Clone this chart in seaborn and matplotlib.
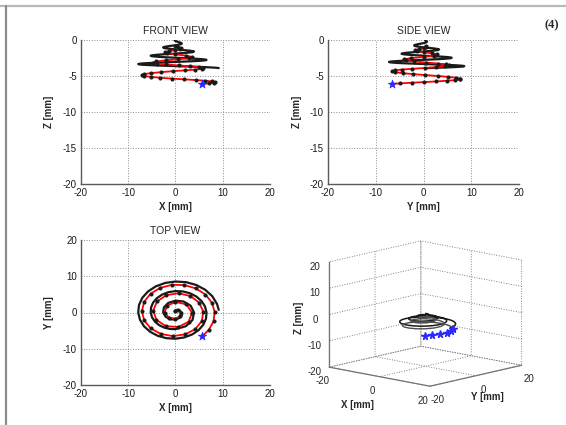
import matplotlib
matplotlib.use("Agg")
import matplotlib.pyplot as plt
import seaborn as sns
from matplotlib.lines import Line2D

# ---------------- data (mm) ----------------
# desired (black) spiral trajectory
desired_x = [-0.205, 0.000, 0.425, 0.927, 1.290, 1.308, 0.865, 0.000, -1.085, -2.070,
             -2.610, -2.451, -1.525, 0.000, 1.745, 3.213, 3.930, 3.594, 2.185, 0.000,
             -1.216, -2.405, -3.479, -4.356, -4.965, -5.250, -5.177, -4.737, -3.946,
             -2.845, -1.501, 0.000, 1.558, 3.065, 4.412, 5.499, 6.240, 6.570, 6.452,
             5.880, 4.879, 3.505, 1.843, 0.000, -1.900, -3.725, -5.346, -6.642, -7.515,
             -7.890, -7.727, -7.023, -5.812, -4.165, -2.184, 0.000, 2.241, 4.385, 6.279,
             7.785, 8.790, 9.152]
desired_y = [0.355, 0.630, 0.736, 0.535, 0.000, -0.755, -1.498, -1.950, -1.879, -1.195,
             0.000, 1.415, 2.641, 3.270, 3.022, 1.855, 0.000, -2.075, -3.784, -4.590,
             -4.540, -4.165, -3.479, -2.515, -1.330, 0.000, 1.387, 2.735, 3.946,
             4.928, 5.602, 5.910, 5.815, 5.309, 4.412, 3.175, 1.672, 0.000, -1.729,
             -3.395, -4.879, -6.071, -6.877, -7.230, -7.090, -6.452, -5.346, -3.835, -2.013,
             0.000, 2.070, 4.055, 5.812, 7.214, 8.152, 8.550, 8.365, 7.595, 6.279,
             4.495, 2.355, 0.720]
desired_z = [-0.048, -0.145, -0.242, -0.338, -0.435, -0.532, -0.628, -0.725, -0.822, -0.919,
             -1.015, -1.112, -1.209, -1.305, -1.402, -1.499, -1.595, -1.692, -1.789, -1.885,
             -1.934, -1.982, -2.030, -2.079, -2.127, -2.175, -2.224, -2.272, -2.320,
             -2.369, -2.417, -2.465, -2.514, -2.562, -2.610, -2.659, -2.707, -2.755, -2.804,
             -2.852, -2.900, -2.949, -2.997, -3.045, -3.094, -3.142, -3.190, -3.239, -3.287,
             -3.335, -3.384, -3.432, -3.480, -3.529, -3.577, -3.625, -3.674, -3.722, -3.770,
             -3.819, -3.867, -3.900]

# measured (red, sampled) trajectory; last point is the current position (blue star)
measured_x = [0.000, 0.566, 1.100, 0.990, 0.000, -1.414, -2.300, -1.838, 0.000, 2.263,
              3.500, 2.787, 0.564, -2.068, -4.050, -4.713, -3.908, -1.934, 0.637, 3.153,
              5.026, 5.880, 5.571, 4.187, 2.009, -0.574, -3.119, -5.245, -6.634, -7.111,
              -6.623, -5.256, -3.197, -0.709, 1.903, 4.338, 6.343, 7.704, 8.290, 8.052,
              7.025, 5.604]
measured_y = [0.500, 0.566, 0.000, -0.990, -1.700, -1.414, 0.000, 1.838, 2.900, 2.263,
              0.000, -2.560, -4.008, -3.761, -2.016, 0.535, 3.042, 4.776, 5.308, 4.546,
              2.712, 0.231, -2.370, -4.596, -6.053, -6.509, -5.913, -4.381, -2.167, 0.402,
              2.978, 5.206, 6.821, 7.632, 7.558, 6.628, 4.952, 2.719, 0.169, -2.435,
              -4.838, -6.562]
measured_z = [-0.900, -1.025, -1.150, -1.275, -1.400, -1.550, -1.700, -1.850, -2.000, -2.175,
              -2.350, -2.516, -2.669, -2.828, -2.982, -3.129, -3.268, -3.402, -3.530, -3.654,
              -3.774, -3.890, -4.002, -4.112, -4.218, -4.331, -4.470, -4.606, -4.739, -4.870,
              -4.998, -5.123, -5.247, -5.368, -5.471, -5.566, -5.660, -5.753, -5.844, -5.935,
              -6.025, -6.100]

xy_ticks = [-20, -10, 0, 10, 20]
z_ticks = [-20, -15, -10, -5, 0]
ticks3d_xy = [-20, 0, 20]
ticks3d_z = [-20, -10, 0, 10, 20]

# ---------------- style ----------------
sns.set_theme(style="white")
plt.rcParams["font.family"] = ["Liberation Sans", "DejaVu Sans"]
plt.rcParams["axes.unicode_minus"] = False
plt.rcParams["grid.linestyle"] = ":"
plt.rcParams["grid.color"] = "0.5"
plt.rcParams["grid.linewidth"] = 0.7

W, H = 566, 425
fig = plt.figure(figsize=(W / 100, H / 100), dpi=100)
fig.patch.set_facecolor("white")


def rect(x0, y0, x1, y1):
    return [x0 / W, 1 - y1 / H, (x1 - x0) / W, (y1 - y0) / H]


def view2d(r, hb, vb, hr, vr, title, xlab, ylab, ylim, yticks):
    ax = fig.add_axes(r)
    sns.lineplot(x=hb, y=vb, sort=False, estimator=None, color="k",
                 linewidth=1.6, ax=ax)
    sns.lineplot(x=hr, y=vr, sort=False, estimator=None, color="red",
                 linewidth=1.3, marker="o", markersize=2.2,
                 markerfacecolor="k", markeredgecolor="k", ax=ax)
    sns.scatterplot(x=[hr[-1]], y=[vr[-1]], marker="*", color="#2a2aff",
                    edgecolor="#2a2aff", s=40, zorder=5, ax=ax)
    ax.set_xlim(-20, 20)
    ax.set_ylim(*ylim)
    ax.set_xticks(xy_ticks)
    ax.set_yticks(yticks)
    ax.grid(True, linestyle=":", color="0.55", linewidth=0.7)
    for s in ["top", "right"]:
        ax.spines[s].set_visible(False)
    for s in ["left", "bottom"]:
        ax.spines[s].set_color("0.35")
        ax.spines[s].set_linewidth(1.0)
    ax.tick_params(direction="in", length=3, width=0.8, labelsize=7,
                   pad=3, color="0.35", labelcolor="k")
    ax.set_title(title, fontsize=7.5, pad=4)
    ax.set_xlabel(xlab, fontsize=7, fontweight="bold", labelpad=3)
    ax.set_ylabel(ylab, fontsize=7, fontweight="bold", labelpad=6)
    ax.set_facecolor("white")
    return ax


view2d(rect(81, 40, 270, 184), desired_x, desired_z, measured_x, measured_z,
       "FRONT VIEW", "X [mm]", "Z [mm]", (-20, 0), z_ticks)
view2d(rect(328, 40, 519, 184), desired_y, desired_z, measured_y, measured_z,
       "SIDE VIEW", "Y [mm]", "Z [mm]", (-20, 0), z_ticks)
view2d(rect(81, 240, 270, 385), desired_x, desired_y, measured_x, measured_y,
       "TOP VIEW", "X [mm]", "Y [mm]", (-20, 20), xy_ticks)

# ---------------- 3D view ----------------
ax3 = fig.add_axes(rect(298, 226, 548, 406), projection="3d")
ax3.plot(desired_x, desired_y, desired_z, color="0.1", linewidth=1.1)
ax3.plot(measured_x, measured_y, measured_z, color="0.3", linewidth=1.0)
ax3.plot(measured_x[-6:], measured_y[-6:], measured_z[-6:], color="#2a2aff",
         linewidth=0.9, marker="*", markersize=5.5)
ax3.set_xlim(-20, 20)
ax3.set_ylim(-20, 20)
ax3.set_zlim(-20, 20)
ax3.set_xticks(ticks3d_xy)
ax3.set_yticks(ticks3d_xy)
ax3.set_zticks(ticks3d_z)
ax3.set_proj_type("ortho")
ax3.view_init(elev=12, azim=-47.7)
ax3.set_box_aspect((1, 1, 0.79), zoom=1.19)
for axis in (ax3.xaxis, ax3.yaxis, ax3.zaxis):
    axis.set_pane_color((1, 1, 1, 0))
    axis.pane.set_edgecolor("none")
    axis.line.set_color("0.45")
    axis.line.set_linewidth(0.9)
    axis._axinfo["grid"].update({"linestyle": (0, (1.0, 2.0)), "color": "0.35",
                                 "linewidth": 0.6})
    axis._axinfo["tick"].update({"inward_factor": 0.0, "outward_factor": 0.0})
ax3.zaxis.set_ticks_position("lower")
ax3.tick_params(labelsize=7, pad=-3)
ax3.set_xlabel("")
ax3.set_ylabel("")
ax3.set_zlabel("")
ax3.set_facecolor((1, 1, 1, 0))

fig.text(357 / W, 1 - 405 / H, "X [mm]", fontsize=7, fontweight="bold",
         ha="center", va="center")
fig.text(487 / W, 1 - 397 / H, "Y [mm]", fontsize=7, fontweight="bold",
         ha="center", va="center")
fig.text(299 / W, 1 - 318 / H, "Z [mm]", fontsize=7, fontweight="bold",
         ha="center", va="center", rotation=90)

# ---------------- frame and panel tag ----------------
fig.add_artist(Line2D([0, 1], [1 - 5.5 / H, 1 - 5.5 / H], transform=fig.transFigure,
                      color="0.72", linewidth=1.6))
fig.add_artist(Line2D([5.5 / W, 5.5 / W], [0, 1 - 5.5 / H], transform=fig.transFigure,
                      color="0.55", linewidth=1.6))
fig.text(552 / W, 1 - 25 / H, "(4)", fontsize=9, fontweight="bold",
         family=["Liberation Serif", "DejaVu Serif"], ha="center", va="center")

fig.savefig("out.png", dpi=100)
